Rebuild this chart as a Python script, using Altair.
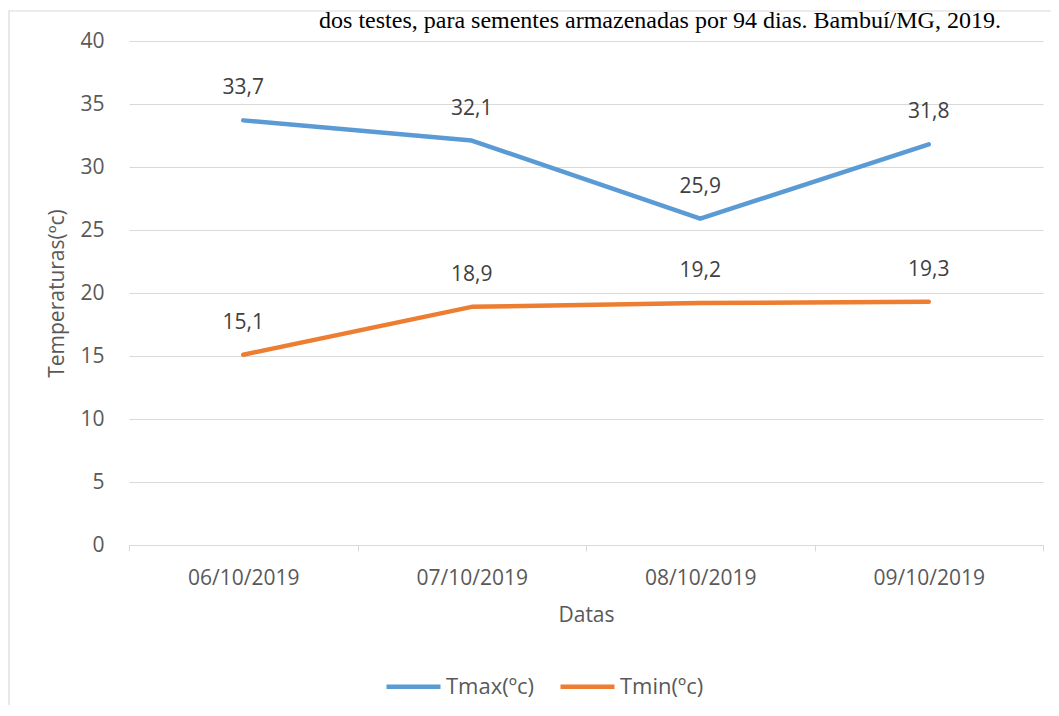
import altair as alt
import pandas as pd

datas = ["06/10/2019", "07/10/2019", "08/10/2019", "09/10/2019"]
tmax = [33.7, 32.1, 25.9, 31.8]
tmin = [15.1, 18.9, 19.2, 19.3]
series = ["Tmax(ºc)", "Tmin(ºc)"]
colors = ["#5B9BD5", "#ED7D31"]
y_ticks = [0, 5, 10, 15, 20, 25, 30, 35, 40]
caption = "dos testes, para sementes armazenadas por 94 dias. Bambuí/MG, 2019."

rows = []
for d, v in zip(datas, tmax):
    rows.append({"Datas": d, "serie": series[0], "valor": v, "rotulo": f"{v:.1f}".replace(".", ",")})
for d, v in zip(datas, tmin):
    rows.append({"Datas": d, "serie": series[1], "valor": v, "rotulo": f"{v:.1f}".replace(".", ",")})
df = pd.DataFrame(rows)

FONT = "Open Sans"

x_enc = alt.X(
    "Datas:N",
    sort=datas,
    scale=alt.Scale(type="band", paddingInner=0, paddingOuter=0),
    axis=alt.Axis(
        title="Datas",
        labelAngle=0,
        tickBand="extent",
        domainColor="#D9D9D9",
        tickColor="#D9D9D9",
        tickSize=6,
        labelPadding=16,
        titlePadding=16,
        grid=False,
    ),
)
y_enc = alt.Y(
    "valor:Q",
    scale=alt.Scale(domain=[0, 40], nice=False, zero=True),
    axis=alt.Axis(
        title="Temperaturas(ºc)",
        values=y_ticks,
        ticks=False,
        tickSize=0,
        domain=False,
        labelPadding=25,
        titlePadding=12,
        gridColor="#D9D9D9",
        gridWidth=1,
    ),
)
color_enc = alt.Color(
    "serie:N",
    scale=alt.Scale(domain=series, range=colors),
    legend=alt.Legend(
        title=None,
        orient="none",
        legendX=255,
        legendY=616,
        direction="horizontal",
        symbolType="stroke",
        symbolSize=2916,
        symbolStrokeWidth=4.5,
        labelFontSize=22,
        labelColor="#595959",
        labelFont=FONT,
        labelOffset=3,
        columnPadding=17,
        padding=0,
    ),
)

base = alt.Chart(df)

lines = base.mark_line(strokeWidth=4.5, strokeCap="round", strokeJoin="round").encode(
    x=x_enc, y=y_enc, color=color_enc
)
labels = base.mark_text(dy=-32, fontSize=21, font=FONT, color="#404040").encode(
    x=alt.X("Datas:N", sort=datas), y="valor:Q", text="rotulo:N"
)

frame_df = pd.DataFrame({"k": [1]})
frame = alt.Chart(frame_df).mark_rect(fill=None, stroke="#D9D9D9", strokeWidth=1.2).encode(
    x=alt.value(-120), x2=alt.value(1100), y=alt.value(-30), y2=alt.value(900)
)
cap_df = pd.DataFrame({"t": [caption]})
cap = alt.Chart(cap_df).mark_text(
    font="Liberation Serif", fontSize=24, fontWeight="normal", color="#000000",
    baseline="alphabetic", align="center"
).encode(text="t:N", x=alt.value(531), y=alt.value(-13))

chart = (
    alt.layer(frame, lines, labels, cap)
    .properties(
        width=914,
        height=504,
        autosize=alt.AutoSizeParams(type="none"),
        padding={"left": 121, "top": 33, "right": 8, "bottom": 160},
    )
    .configure_view(stroke=None)
    .configure_axis(
        labelFont=FONT,
        titleFont=FONT,
        labelFontSize=21,
        titleFontSize=21,
        labelColor="#595959",
        titleColor="#595959",
        titleFontWeight="normal",
    )
)

chart.save("out.html", embed_options={"renderer": "svg", "actions": False})
